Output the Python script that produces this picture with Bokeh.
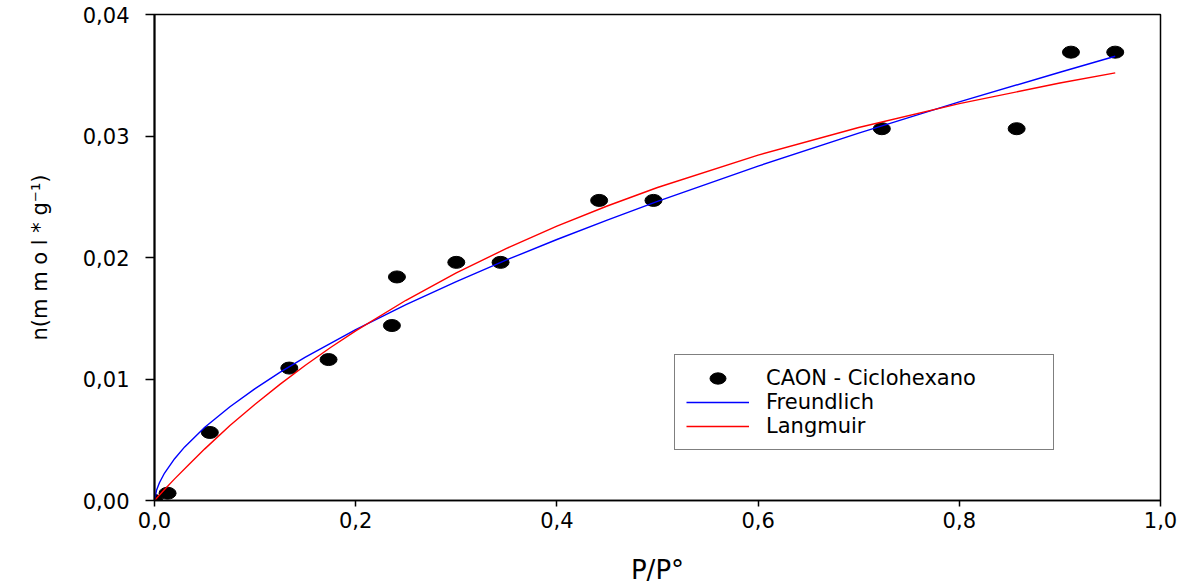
from bokeh.plotting import figure
from bokeh.models import Range1d, FixedTicker, Legend, LegendItem, ColumnDataSource
from bokeh.embed import file_html
from bokeh.resources import INLINE

# ---- data ----
pts_x = [0.0, 0.013, 0.055, 0.134, 0.173, 0.236, 0.241, 0.300, 0.344, 0.442, 0.496, 0.723, 0.857, 0.911, 0.955]
pts_y = [0.0, 0.0006, 0.0056, 0.0109, 0.0116, 0.0144, 0.0184, 0.0196, 0.0196, 0.0247, 0.0247, 0.0306, 0.0306, 0.0369, 0.0369]

freund_x = [0, 0.002, 0.005, 0.01, 0.02, 0.03, 0.05, 0.075, 0.1, 0.125, 0.15, 0.2, 0.25, 0.3, 0.35, 0.4, 0.45,
            0.5, 0.6, 0.7, 0.8, 0.9, 0.955]
freund_y = [0, 0.00084, 0.00148, 0.00226, 0.00344, 0.00441, 0.00603, 0.00772, 0.00921, 0.01056, 0.01180, 0.01407,
            0.01612, 0.01802, 0.01980, 0.02148, 0.02308, 0.02462, 0.02752, 0.03024, 0.03281, 0.03525, 0.03656]

lang_x = [0, 0.01, 0.02, 0.035, 0.05, 0.075, 0.1, 0.125, 0.15, 0.175, 0.2, 0.25, 0.3, 0.35, 0.4, 0.45, 0.5, 0.6,
          0.7, 0.8, 0.9, 0.955]
lang_y = [0, 0.00090, 0.00178, 0.00303, 0.00425, 0.00617, 0.00792, 0.00958, 0.01113, 0.01259, 0.01396, 0.01648,
          0.01873, 0.02075, 0.02258, 0.02424, 0.02576, 0.02843, 0.03070, 0.03266, 0.03436, 0.03520]

x_ticks = [0.0, 0.2, 0.4, 0.6, 0.8, 1.0]
x_tick_labels = ["0,0", "0,2", "0,4", "0,6", "0,8", "1,0"]
y_ticks = [0.0, 0.01, 0.02, 0.03, 0.04]
y_tick_labels = ["0,00", "0,01", "0,02", "0,03", "0,04"]

series_names = ["CAON - Ciclohexano", "Freundlich", "Langmuir"]
x_title = "P/P°"
y_title = "n(m m o l * g⁻¹)"

FONT = "DejaVu Sans"

p = figure(frame_width=1006, frame_height=486, output_backend="svg", toolbar_location=None,
           x_range=Range1d(0, 1.0), y_range=Range1d(0, 0.04),
           min_border_left=154, min_border_right=33, min_border_top=14, min_border_bottom=85,
           background_fill_color="white", border_fill_color="white")
p.grid.visible = False
p.outline_line_color = "black"
p.outline_line_width = 1.5

# axes
p.xaxis.ticker = FixedTicker(ticks=x_ticks)
p.xaxis.major_label_overrides = {t: l for t, l in zip(x_ticks, x_tick_labels)}
p.yaxis.ticker = FixedTicker(ticks=y_ticks)
p.yaxis.major_label_overrides = {t: l for t, l in zip(y_ticks, y_tick_labels)}
for ax in (p.xaxis, p.yaxis):
    ax.minor_tick_line_color = None
    ax.major_tick_in = 0
    ax.axis_line_color = "black"
    ax.major_tick_line_color = "black"
    ax.major_tick_line_width = 1.5
    ax.major_label_text_font = FONT
    ax.major_label_text_font_size = "21px"
    ax.major_label_text_color = "black"
    ax.axis_label_text_font = FONT
    ax.axis_label_text_font_style = "normal"
    ax.axis_label_text_color = "black"

p.xaxis.axis_line_width = 1.5
p.xaxis.major_tick_out = 6
p.xaxis.major_label_standoff = 5
p.xaxis.axis_label = x_title
p.xaxis.axis_label_text_font_size = "26px"
p.xaxis.axis_label_standoff = 24

p.yaxis.axis_line_width = 2
p.yaxis.major_tick_out = 9
p.yaxis.major_label_standoff = 16
p.yaxis.axis_label = y_title
p.yaxis.axis_label_text_font_size = "21px"
p.yaxis.axis_label_standoff = 28

# glyphs
src_pts = ColumnDataSource(dict(x=pts_x, y=pts_y))
r_pts = p.ellipse(x="x", y="y", width=17, height=12, width_units="screen", height_units="screen",
                  source=src_pts, fill_color="black", line_color="black")
r_f = p.line(freund_x, freund_y, line_color="#0000ff", line_width=1.4)
r_l = p.line(lang_x, lang_y, line_color="#ff0000", line_width=1.4)

legend = Legend(items=[LegendItem(label=series_names[0], renderers=[r_pts]),
                       LegendItem(label=series_names[1], renderers=[r_f]),
                       LegendItem(label=series_names[2], renderers=[r_l])],
                location=(520, 50), glyph_width=63, glyph_height=20, label_height=20,
                label_standoff=17, spacing=0, padding=11, margin=0,
                label_text_font=FONT, label_text_font_size="21px", label_text_color="black",
                border_line_color="black", border_line_width=1.5, background_fill_alpha=1.0,
                label_width=276)
p.add_layout(legend, "center")

open("out.html", "w").write(file_html(p, INLINE))
